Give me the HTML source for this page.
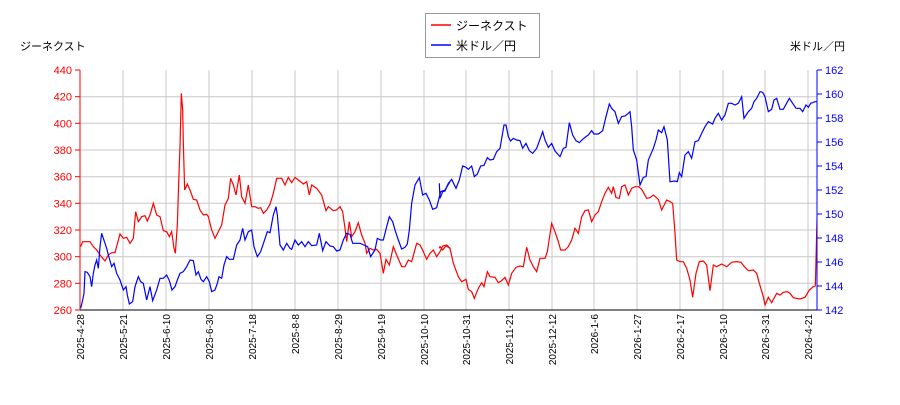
<!DOCTYPE html>
<html><head><meta charset="utf-8"><style>
body{margin:0;background:#fff}
svg{font-family:"Liberation Sans","Noto Sans CJK JP",sans-serif}
</style></head><body>
<svg width="900" height="400" viewBox="0 0 900 400" xmlns="http://www.w3.org/2000/svg">
<defs><clipPath id="c"><rect x="80" y="69" width="737" height="242"/></clipPath></defs>
<g stroke="#c8c8c8" stroke-width="1">
<line x1="80" x2="817" y1="96.7" y2="96.7"/><line x1="80" x2="817" y1="123.3" y2="123.3"/><line x1="80" x2="817" y1="150" y2="150"/><line x1="80" x2="817" y1="176.7" y2="176.7"/><line x1="80" x2="817" y1="203.3" y2="203.3"/><line x1="80" x2="817" y1="230" y2="230"/><line x1="80" x2="817" y1="256.7" y2="256.7"/><line x1="80" x2="817" y1="283.3" y2="283.3"/>
<line y1="70" y2="310" x1="123" x2="123"/><line y1="70" y2="310" x1="166" x2="166"/><line y1="70" y2="310" x1="209" x2="209"/><line y1="70" y2="310" x1="252" x2="252"/><line y1="70" y2="310" x1="295" x2="295"/><line y1="70" y2="310" x1="338" x2="338"/><line y1="70" y2="310" x1="381" x2="381"/><line y1="70" y2="310" x1="424" x2="424"/><line y1="70" y2="310" x1="466" x2="466"/><line y1="70" y2="310" x1="509" x2="509"/><line y1="70" y2="310" x1="552" x2="552"/><line y1="70" y2="310" x1="594" x2="594"/><line y1="70" y2="310" x1="637" x2="637"/><line y1="70" y2="310" x1="680" x2="680"/><line y1="70" y2="310" x1="723" x2="723"/><line y1="70" y2="310" x1="765" x2="765"/><line y1="70" y2="310" x1="808" x2="808"/>
</g>
<g clip-path="url(#c)" fill="none" stroke-width="1.2">
<g transform="translate(70,60) scale(0.33333)">
<polyline stroke="#ff0000" vector-effect="non-scaling-stroke" points="32,560 38,545 60,545 70,560 80,570 90,585 105,603 115,585 125,578 135,578 150,522 160,535 170,532 180,550 190,535 197,455 205,485 215,470 225,467 232,483 240,465 250,430 260,465 270,470 280,512 290,515 298,530 305,515 312,565 316,580 322,495 326,370 330,260 334,100 338,150 340,250 344,390 352,372 360,390 370,418 380,420 390,450 400,465 410,463 415,470 425,510 435,535 445,515 455,495 465,435 475,415 482,355 490,375 498,405 508,345 515,410 525,430 535,375 545,440 555,440 565,445 572,443 580,460 590,450 600,433 610,400 620,355 635,355 645,375 655,352 665,368 675,352 685,360 700,372 710,365 718,405 725,375 740,385 755,405 768,452 775,440 790,452 800,450 810,440 818,455 825,505 830,545 838,485 845,530 855,515 865,488 875,525 885,550 890,580 900,565 910,570 920,568 930,580 940,640 948,598 958,615 970,560 980,585 995,620 1005,620 1015,600 1025,605 1040,550 1050,555 1060,575 1070,598 1080,580 1090,570 1100,590 1110,575 1118,558 1126,556 1140,565"/>
<polyline stroke="#0000ff" vector-effect="non-scaling-stroke" points="32,745 38,720 42,700 45,635 52,637 60,650 65,680 70,640 75,615 80,600 85,625 90,560 95,520 100,535 110,565 115,585 125,620 132,610 140,640 150,660 160,690 168,680 172,705 178,732 188,725 195,680 205,650 212,665 220,670 230,720 240,680 248,722 260,690 270,655 280,655 290,645 298,662 306,690 315,680 322,660 330,640 340,635 350,620 360,600 370,602 378,645 385,635 393,658 400,665 410,650 418,665 425,695 435,690 442,670 447,650 455,655 462,615 470,590 478,598 490,598 500,555 510,540 518,505 525,540 535,515 545,510 552,560 562,590 572,575 582,545 592,515 600,518 610,465 618,440 622,465 630,555 640,570 650,550 660,565 665,568 675,540 685,555 695,545 705,560 715,545 725,557 740,555 748,520 758,572 768,545 780,558 790,560 800,573 810,570 820,540 830,520 840,523 848,550 870,550 882,555 893,560 902,590 915,570 922,535 932,540 940,540 950,500 958,470 968,485 975,510 985,540 995,567 1005,562 1012,552 1018,510 1025,430 1035,375 1048,353 1058,405 1068,400 1078,420 1088,448 1100,443 1112,395 1125,390 1140,365"/>
</g>
<g transform="translate(440,60) scale(0.33333)">
<polyline stroke="#ff0000" vector-effect="non-scaling-stroke" points="-2,565 0,560 8,570 20,555 30,565 40,610 55,650 65,665 78,658 85,688 95,695 103,715 115,685 125,668 132,680 142,635 150,650 165,652 175,668 185,662 195,652 205,675 215,640 228,622 240,618 250,620 260,562 270,600 280,620 290,635 300,595 315,595 322,575 335,490 345,515 355,545 362,570 375,570 385,560 395,540 405,505 415,520 425,470 435,452 445,450 455,485 465,465 475,455 485,425 495,400 505,382 515,400 520,380 528,413 538,415 545,380 555,375 565,405 575,385 585,380 595,380 605,388 620,415 630,413 640,405 655,418 665,450 680,420 690,425 698,430 705,520 710,600 720,605 730,605 740,625 750,660 758,712 768,640 778,605 790,603 800,615 810,692 820,615 830,620 845,612 860,620 875,607 890,605 903,607 915,622 925,632 940,630 950,640 958,670 970,710 975,735 985,712 995,728 1010,700 1020,705 1030,697 1042,695 1050,700 1060,713 1080,717 1095,712 1108,690 1120,680 1126,678 1128,600 1132,440 1135,470 1138,575"/>
<polyline stroke="#0000ff" vector-effect="non-scaling-stroke" points="-2,370 0,415 8,395 15,393 25,370 35,358 48,385 58,360 68,318 78,322 85,328 95,318 103,350 112,342 122,318 132,316 142,293 150,300 160,298 170,275 180,265 192,195 198,195 205,230 212,243 220,235 230,240 240,242 248,265 258,250 268,272 278,280 290,265 300,238 308,215 315,240 325,262 335,250 345,273 360,290 370,265 378,262 388,188 398,225 408,242 418,248 428,238 438,230 445,225 455,212 462,222 475,222 488,212 498,170 508,132 515,145 525,155 535,190 545,170 555,168 565,160 570,155 575,200 580,270 590,300 600,375 610,352 618,350 625,300 640,265 648,240 655,210 665,218 672,200 682,240 690,365 705,363 712,365 718,338 725,350 735,285 745,275 755,295 765,245 775,242 785,220 795,200 805,185 818,192 825,175 835,160 845,180 855,165 865,130 875,130 885,135 895,130 905,110 912,175 925,155 935,145 942,125 950,115 960,95 968,97 975,110 985,155 995,148 1002,120 1010,115 1020,148 1030,148 1048,115 1058,130 1068,145 1080,145 1088,155 1098,135 1105,142 1112,130 1125,125 1135,125 1140,120"/>
</g>
</g>
<line x1="80" y1="70" x2="80" y2="310" stroke="#ff0000"/>
<line x1="817" y1="70" x2="817" y2="310" stroke="#0000ff"/>
<line x1="80" y1="310" x2="817" y2="310" stroke="#000"/>
<g stroke="#ff0000">
<line x1="75" x2="80" y1="70" y2="70"/><line x1="75" x2="80" y1="96.7" y2="96.7"/><line x1="75" x2="80" y1="123.3" y2="123.3"/><line x1="75" x2="80" y1="150" y2="150"/><line x1="75" x2="80" y1="176.7" y2="176.7"/><line x1="75" x2="80" y1="203.3" y2="203.3"/><line x1="75" x2="80" y1="230" y2="230"/><line x1="75" x2="80" y1="256.7" y2="256.7"/><line x1="75" x2="80" y1="283.3" y2="283.3"/><line x1="75" x2="80" y1="310" y2="310"/>
</g>
<g stroke="#0000ff">
<line x1="817" x2="822" y1="70" y2="70"/><line x1="817" x2="822" y1="94" y2="94"/><line x1="817" x2="822" y1="118" y2="118"/><line x1="817" x2="822" y1="142" y2="142"/><line x1="817" x2="822" y1="166" y2="166"/><line x1="817" x2="822" y1="190" y2="190"/><line x1="817" x2="822" y1="214" y2="214"/><line x1="817" x2="822" y1="238" y2="238"/><line x1="817" x2="822" y1="262" y2="262"/><line x1="817" x2="822" y1="286" y2="286"/><line x1="817" x2="822" y1="310" y2="310"/>
</g>
<g font-size="11" fill="#ff0000" text-anchor="end">
<text x="72" y="74">440</text><text x="72" y="100.7">420</text><text x="72" y="127.3">400</text><text x="72" y="154">380</text><text x="72" y="180.7">360</text><text x="72" y="207.3">340</text><text x="72" y="234">320</text><text x="72" y="260.7">300</text><text x="72" y="287.3">280</text><text x="72" y="314">260</text>
</g>
<g font-size="11" fill="#0000ff">
<text x="825" y="74">162</text><text x="825" y="98">160</text><text x="825" y="122">158</text><text x="825" y="146">156</text><text x="825" y="170">154</text><text x="825" y="194">152</text><text x="825" y="218">150</text><text x="825" y="242">148</text><text x="825" y="266">146</text><text x="825" y="290">144</text><text x="825" y="314">142</text>
</g>
<g font-size="10" fill="#000" text-anchor="end">
<text transform="translate(84,314) rotate(-90)">2025-4-28</text>
<text transform="translate(127,314) rotate(-90)">2025-5-21</text>
<text transform="translate(170,314) rotate(-90)">2025-6-10</text>
<text transform="translate(213,314) rotate(-90)">2025-6-30</text>
<text transform="translate(256,314) rotate(-90)">2025-7-18</text>
<text transform="translate(299,314) rotate(-90)">2025-8-8</text>
<text transform="translate(342,314) rotate(-90)">2025-8-29</text>
<text transform="translate(385,314) rotate(-90)">2025-9-19</text>
<text transform="translate(428,314) rotate(-90)">2025-10-10</text>
<text transform="translate(470,314) rotate(-90)">2025-10-31</text>
<text transform="translate(513,314) rotate(-90)">2025-11-21</text>
<text transform="translate(556,314) rotate(-90)">2025-12-12</text>
<text transform="translate(598,314) rotate(-90)">2026-1-6</text>
<text transform="translate(641,314) rotate(-90)">2026-1-27</text>
<text transform="translate(684,314) rotate(-90)">2026-2-17</text>
<text transform="translate(727,314) rotate(-90)">2026-3-10</text>
<text transform="translate(769,314) rotate(-90)">2026-3-31</text>
<text transform="translate(812,314) rotate(-90)">2026-4-21</text>
</g>
<text x="20" y="50" font-size="11">ジーネクスト</text>
<text x="790" y="50" font-size="11">米ドル／円</text>
<rect x="425.5" y="13.5" width="114" height="44" fill="#fff" stroke="#999"/>
<line x1="431" x2="451" y1="25" y2="25" stroke="#ff0000" stroke-width="1.5"/>
<line x1="431" x2="451" y1="45" y2="45" stroke="#0000ff" stroke-width="1.5"/>
<text x="456" y="30" font-size="12">ジーネクスト</text>
<text x="456" y="50" font-size="12">米ドル／円</text>
</svg>
</body></html>
